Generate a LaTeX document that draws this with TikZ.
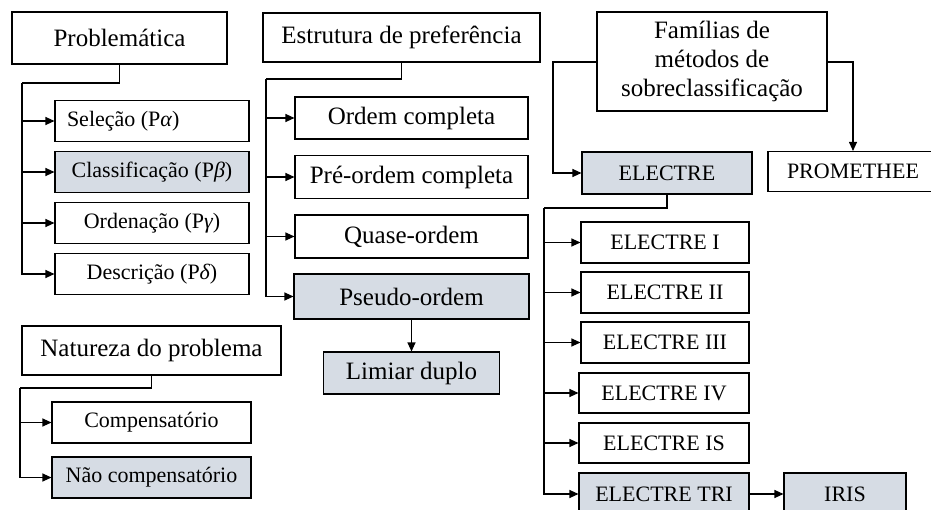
\documentclass[tikz,border=0pt]{standalone}
\usepackage{fontspec}
\setmainfont{Liberation Serif}
\usetikzlibrary{arrows.meta}
\definecolor{boxfill}{HTML}{D6DCE4}
\newcommand{\gk}[1]{{\itshape #1}}
\tikzset{
  box/.style={draw=black, line width=1.1pt, inner sep=0pt, anchor=center, align=center},
  big/.style={font=\fontsize{25}{29}\selectfont},
  small/.style={font=\fontsize{22}{26}\selectfont},
  hl/.style={fill=boxfill},
  conn/.style={draw=black, line width=1.1pt},
  arr/.style={conn, -{Triangle[length=9pt,width=8pt]}},
  bx/.style n args={2}{minimum width=#1pt, minimum height=#2pt}
}
\begin{document}
\begin{tikzpicture}[x=1pt,y=-1pt]
\useasboundingbox (0,0) rectangle (931,510);
\clip (0,0) rectangle (931,510);

% Problemática
\node[box,big,bx={215}{52}] (prob) at (119.5,38) {Problemática};
\node[box,small,bx={194}{41}] (sel) at (152,121) {\makebox[170pt][l]{Seleção (P\gk{α})}};
\node[box,small,hl,bx={194}{41}] (cla) at (152,172) {Classificação (P\gk{β})};
\node[box,small,bx={194}{41}] (ord) at (152,223) {Ordenação (P\gk{γ})};
\node[box,small,bx={194}{41}] (des) at (152,274) {Descrição (P\gk{δ})};
\coordinate (pA) at (22,83);
\draw[conn] (prob.south) |- (pA);
\draw[arr] (pA) |- (des.west);
\draw[arr] (pA |- sel.west) -- (sel.west);
\draw[arr] (pA |- cla.west) -- (cla.west);
\draw[arr] (pA |- ord.west) -- (ord.west);

% Estrutura de preferência
\node[box,big,bx={277}{49}] (est) at (401.5,37.5) {Estrutura de preferência};
\node[box,big,bx={233}{42}] (oc) at (411.5,118) {Ordem completa};
\node[box,big,bx={233}{43}] (po) at (411.5,177) {Pré-ordem completa};
\node[box,big,bx={233}{43}] (qo) at (411.5,236.5) {Quase-ordem};
\node[box,big,hl,bx={235}{45}] (pso) at (411.5,296.5) {Pseudo-ordem};
\node[box,big,hl,bx={176}{42}] (lim) at (411.5,373) {Limiar duplo};
\coordinate (pB) at (266,79);
\draw[conn] (est.south) |- (pB);
\draw[arr] (pB) |- (pso.west);
\draw[arr] (pB |- oc.west) -- (oc.west);
\draw[arr] (pB |- po.west) -- (po.west);
\draw[arr] (pB |- qo.west) -- (qo.west);
\draw[arr] (pso.south) -- (lim.north);

% Famílias
\node[box,big,bx={230}{99}] (fam) at (712,61.5) {Famílias de\\métodos de\\sobreclassificação};
\node[box,small,hl,bx={170}{42}] (ele) at (667,173) {ELECTRE};
\node[box,small,bx={170}{40}] (pro) at (853,171.5) {PROMETHEE};
\coordinate (pC) at (553,62);
\coordinate (pD) at (853,62);
\draw[arr] (fam.west |- pC) -- (pC) |- (ele.west);
\draw[arr] (fam.east |- pD) -- (pD) -- (pro.north);

\node[box,small,bx={168}{41}] (e1) at (665,242.5) {ELECTRE I};
\node[box,small,bx={168}{41}] (e2) at (665,292.5) {ELECTRE II};
\node[box,small,bx={168}{41}] (e3) at (665,342.5) {ELECTRE III};
\node[box,small,bx={170}{40}] (e4) at (664,393) {ELECTRE IV};
\node[box,small,bx={170}{40}] (eis) at (664,443) {ELECTRE IS};
\node[box,small,hl,bx={170}{42}] (etri) at (664,494) {ELECTRE TRI};
\node[box,small,hl,bx={122}{42}] (iris) at (845,494) {IRIS};
\coordinate (pE) at (544,208);
\draw[conn] (ele.south) |- (pE);
\draw[arr] (pE) |- (etri.west);
\draw[arr] (pE |- e1.west) -- (e1.west);
\draw[arr] (pE |- e2.west) -- (e2.west);
\draw[arr] (pE |- e3.west) -- (e3.west);
\draw[arr] (pE |- e4.west) -- (e4.west);
\draw[arr] (pE |- eis.west) -- (eis.west);
\draw[arr] (etri.east) -- (iris.west);

% Natureza do problema
\node[box,big,bx={259}{49}] (nat) at (151.5,350.5) {Natureza do problema};
\node[box,small,bx={199}{41}] (comp) at (151.5,422.5) {Compensatório};
\node[box,small,hl,bx={199}{41}] (ncomp) at (151.5,477.5) {Não compensatório};
\coordinate (pF) at (20,388);
\draw[conn] (nat.south) |- (pF);
\draw[arr] (pF) |- (ncomp.west);
\draw[arr] (pF |- comp.west) -- (comp.west);
\end{tikzpicture}
\end{document}
